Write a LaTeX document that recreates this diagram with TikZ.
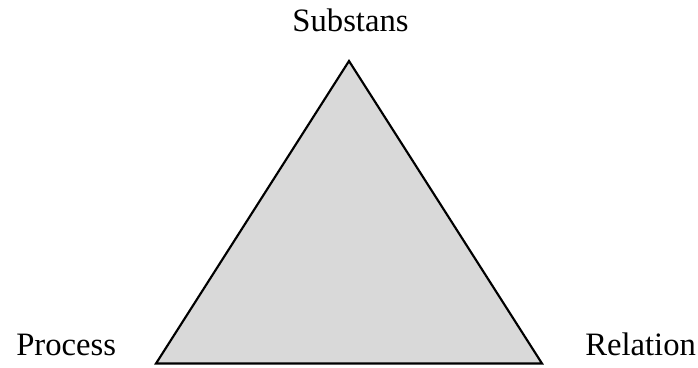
\documentclass[tikz,border=0pt]{standalone}
\usepackage{fontspec}
\setmainfont{Liberation Serif}
\usetikzlibrary{positioning}

\begin{document}
\begin{tikzpicture}[
  x=0.75pt,y=-0.75pt,
  font=\fontsize{24.5}{28}\selectfont,
  corner/.style={inner sep=0pt,anchor=base},
  tri/.style={draw,line width=1.6pt,line join=miter,fill=gray!30},
]
\useasboundingbox (0,0) rectangle (698,367);

% triangle corners
\coordinate (top) at (349,61);
\coordinate (left) at (156,363.5);
\coordinate (right) at (542,363.5);
\draw[tri] (top) -- (left) -- (right) -- cycle;

% labels
\node[corner] (subst) at (350.5,32) {Substans};
\node[corner,anchor=base west] (proc) at (16,355) {Process};
\node[corner,anchor=base west] (rel) at (585,355) {Relation};
\end{tikzpicture}
\end{document}
